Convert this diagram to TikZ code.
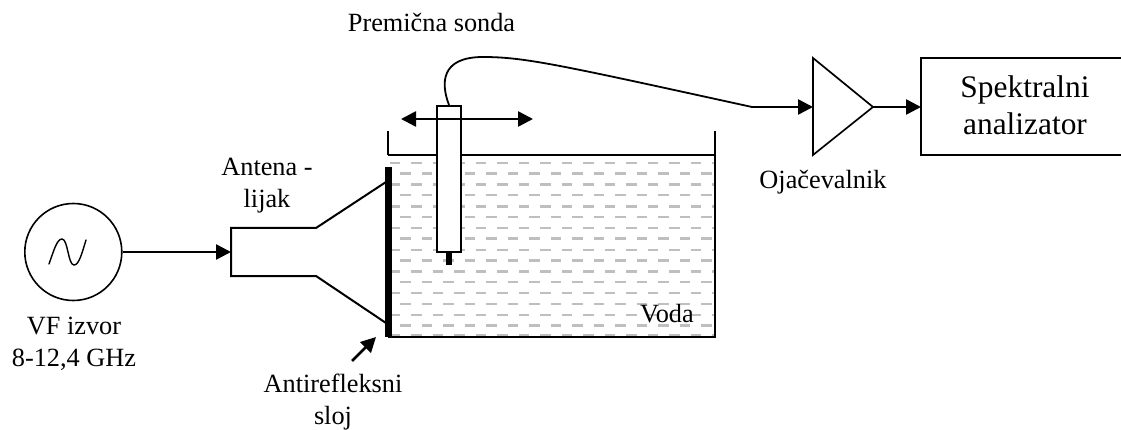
\documentclass[tikz,border=0pt]{standalone}
\usepackage{fontspec}
\setmainfont{Liberation Serif}
\usetikzlibrary{arrows.meta}
\tikzset{
  x=1pt,y=-1pt,
  wire/.style={draw=black,line width=2.6pt},
  body/.style={draw=black,line width=2pt},
  thin wire/.style={draw=black,line width=1.7pt},
  head/.style={-{Triangle[length=15pt,width=15pt]}},
  lbl/.style={inner sep=0pt,outer sep=0pt,align=center,font=\fontsize{26.3}{32}\selectfont},
  biglbl/.style={font=\fontsize{31.4}{37}\selectfont},
  ripple/.style={draw=black!25,line width=2.4pt,dash pattern=on 10.7pt off 10.8pt},
}
\begin{document}
\begin{tikzpicture}
\useasboundingbox (0,0) rectangle (1121,430);
% water ripples
\begin{scope}
\clip (389,156) rectangle (714,336);
\foreach \i in {0,...,7}{
  \draw[ripple] (389.5,{163+\i*21.7}) -- (720,{163+\i*21.7});
}
\foreach \i in {0,...,7}{
  \draw[ripple] (400,{173.6+\i*21.7}) -- (720,{173.6+\i*21.7});
}
\draw[ripple] (389.5,335) -- (720,335);
\end{scope}
% tank
\coordinate (tl) at (388,131);
\coordinate (tr) at (715,131);
\coordinate (wl) at (388,155);
\coordinate (wr) at (715,155);
\coordinate (bl) at (388,337);
\coordinate (br) at (715,337);
\draw[thin wire] (tl) -- (wl);
\draw[thin wire] (tr) -- (wr);
\draw[thin wire] (wl) -- (wr);
\draw[body] (wr) -- (br) -- (bl);
% absorber
\node[fill=black,inner sep=0pt,minimum width=7pt,minimum height=170pt] (abs) at (388.5,252) {};
% source
\node[draw=black,line width=1.6pt,circle,minimum size=97pt,inner sep=0pt] (src) at (73.3,252) {};
\coordinate (s0) at (49,264);
\coordinate (s1) at (86,240);
\draw[line width=1.4pt,line cap=round] (s0) .. controls (54,250) and (57,239) .. (62,239)
  .. controls (68,239) and (68,265) .. (74,265) .. controls (79,265) and (82,253) .. (s1);
% horn
\coordinate (h0) at (231,252);
\coordinate (h1) at (231,228);
\coordinate (h2) at (316,228);
\coordinate (h3) at (386,182);
\coordinate (h4) at (231,276);
\coordinate (h5) at (316,276);
\coordinate (h6) at (386,323);
\draw[body,line join=miter] (h3) -- (h2) -- (h1) -- (h4) -- (h5) -- (h6);
\draw[wire,head] (src.east) -- (h0);
% probe
\node[draw=black,fill=white,line width=2pt,inner sep=0pt,minimum width=24pt,minimum height=146pt] (probe) at (449,179) {};
\node[fill=black,inner sep=0pt,minimum width=6pt,minimum height=12pt,anchor=north] (tip) at (probe.south) {};
\coordinate (ml) at (401,119);
\coordinate (mr) at (533,119);
\draw[wire,{Triangle[length=15pt,width=15pt]}-{Triangle[length=15pt,width=15pt]}] (ml) -- (mr);
% amplifier
\coordinate (a1) at (813,58);
\coordinate (a2) at (813,155);
\coordinate (a3) at (873,107);
\coordinate (a0) at (813,107);
\draw[thin wire,line join=miter] (a1) -- (a2) -- (a3) -- cycle;
\coordinate (c1) at (752,107);
\draw[line width=1.8pt] (probe.north) .. controls (441,84) and (440,57) .. (483,57)
  .. controls (525,57) and (560,65) .. (c1);
\draw[wire,head] (c1) -- (a0);
% analyser: its right side runs off the page, so only three sides show
\node[inner sep=0pt,outer sep=0pt,minimum width=200pt,minimum height=97pt] (sa) at (1021,107) {};
\draw[body,line join=miter] (sa.north east) -- (sa.north west) -- (sa.south west) -- (sa.south east);
\node[lbl,biglbl,anchor=base] (satext) at (1025,135) {Spektralni\\analizator};
\draw[wire,head] (a3) -- (sa.west);
% labels
\node[lbl,anchor=base] (t1) at (431.5,32) {Premična sonda};
\node[lbl,anchor=base] (t2) at (267,208) {Antena -\\lijak};
\node[lbl,anchor=base] (t3) at (74,366) {VF izvor\\8-12,4 GHz};
\node[lbl,anchor=base] (t4) at (333,424) {Antirefleksni\\sloj};
\node[lbl,anchor=base] (t5) at (823,189) {Ojačevalnik};
\node[lbl,anchor=base] (t6) at (667,322) {Voda};
% pointer to the anti-reflective layer
\coordinate (p0) at (352,361);
\coordinate (p1) at (376,337);
\draw[wire,head] (p0) -- (p1);
\end{tikzpicture}
\end{document}
